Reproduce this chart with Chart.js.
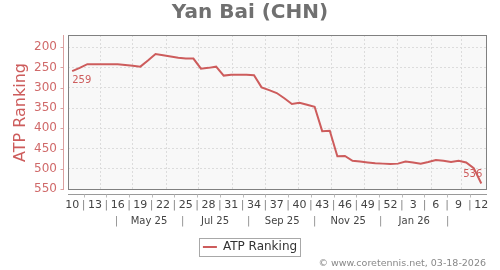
<!DOCTYPE html>
<html>
<head>
<meta charset="utf-8">
<script src="https://cdn.jsdelivr.net/npm/chart.js@4.4.1/dist/chart.umd.min.js"></script>
<style>
	html, body { margin: 0; padding: 0; background: #fff; }
</style>
</head>
<body>
<canvas id="mycanvas" width="500" height="270"></canvas>
<script>
// weekly ATP ranking, week 10 of 2025 to week 12 of 2026
var weeks = [10, 11, 12, 13, 14, 15, 16, 17, 18, 19, 20, 21, 22, 23, 24, 25, 26, 27, 28, 29,
	30, 31, 32, 33, 34, 35, 36, 37, 38, 39, 40, 41, 42, 43, 44, 45, 46, 47, 48, 49, 50, 51, 52,
	1, 2, 3, 4, 5, 6, 7, 8, 9, 10, 11, 12];
var ranking = [259, 251, 242, 242, 242, 242, 242, 244, 246, 248, 233, 217, 220, 223, 226, 228, 228, 253, 251, 248,
	270, 268, 268, 268, 269, 299, 306, 313, 326, 340, 337, 342, 347, 407, 406, 469, 468, 480, 482, 484, 486, 487, 488,
	487, 482, 484, 487, 483, 478, 480, 483, 480, 484, 498, 536];
var yTicks = [200, 250, 300, 350, 400, 450, 500, 550];
var monthLabels = ['May 25', 'Jul 25', 'Sep 25', 'Nov 25', 'Jan 26'];

var MON = ['Jan', 'Feb', 'Mar', 'Apr', 'May', 'Jun', 'Jul', 'Aug', 'Sep', 'Oct', 'Nov', 'Dec'];
var origin = Date.UTC(2025, 2, 6); // thursday of week 10, 2025
var WEEK = 7 * 864e5;
var xMin = -0.55, xMax = weeks.length - 1 + 0.75;
var red = '#cd5c5c';

function weekPos(y, m, d) {
	return (Date.UTC(y, m, d) - origin) / WEEK;
}

// first label row: week numbers with separators between them
var weekTicks = [];
for (var i = 0; i < weeks.length; i += 1.5) {
	weekTicks.push({ value: i, label: i % 3 === 0 ? String(weeks[i]) : '|' });
}

// second label row: every other month, centred mid-month
var monthTicks = [];
monthLabels.forEach(function(lbl, k) {
	var m = MON.indexOf(lbl.slice(0, 3)), y = 2000 + parseInt(lbl.slice(4), 10);
	if (k === 0) monthTicks.push({ value: weekPos(y, m - 1, 16), label: '|' });
	monthTicks.push({ value: weekPos(y, m, 16), label: lbl });
	monthTicks.push({ value: weekPos(y, m + 1, 16), label: '|' });
});

// vertical grid on month starts
var gridTicks = [];
for (var k = 0; k < 14; k++) {
	var v = weekPos(2025, 2 + k, 1);
	if (v > xMin && v < xMax) gridTicks.push({ value: v });
}

var points = ranking.map(function(r, i) { return { x: i, y: r }; });

var decor = {
	id: 'decor',
	beforeDraw: function(chart) {
		var c = chart.ctx, a = chart.chartArea;
		c.save();
		c.fillStyle = '#fff';
		c.fillRect(0, 0, chart.width, chart.height);
		c.fillStyle = '#f8f8f8';
		c.fillRect(a.left, a.top, a.right - a.left, a.bottom - a.top);
		c.restore();
	},
	beforeDatasetsDraw: function(chart) {
		var c = chart.ctx, a = chart.chartArea;
		c.save();
		c.strokeStyle = '#808080';
		c.lineWidth = 1;
		c.strokeRect(Math.round(a.left) + 0.5, Math.round(a.top) + 0.5,
			Math.round(a.right - a.left) - 1, Math.round(a.bottom - a.top) - 1);

		// y axis line, set off from the frame
		var ys = chart.scales.y, lx = Math.round(a.left) - 4.5;
		c.strokeStyle = '#dba0a0';
		c.beginPath();
		c.moveTo(lx, a.top);
		c.lineTo(lx, a.bottom);
		yTicks.forEach(function(t) {
			var py = Math.round(ys.getPixelForValue(t)) + 0.5;
			c.moveTo(lx - 3, py);
			c.lineTo(lx, py);
		});
		c.stroke();

		// x axis line with marks at the separators
		var xs = chart.scales.x, ly = Math.round(a.bottom) + 4.5;
		c.strokeStyle = '#9a9a9a';
		c.beginPath();
		c.moveTo(a.left, ly);
		c.lineTo(a.right, ly);
		c.stroke();
		c.strokeStyle = '#bbb';
		c.beginPath();
		weekTicks.forEach(function(t) {
			if (t.label !== '|') return;
			var px = Math.round(xs.getPixelForValue(t.value)) + 0.5;
			c.moveTo(px, ly);
			c.lineTo(px, ly + 3);
		});
		c.stroke();
		c.restore();
	},
	afterDraw: function(chart) {
		var c = chart.ctx;
		var pts = chart.getDatasetMeta(0).data;
		var first = pts[0], last = pts[pts.length - 1];
		c.save();
		c.font = '10px "DejaVu Sans"';
		c.fillStyle = red;
		c.textBaseline = 'middle';
		c.textAlign = 'left';
		c.fillText(String(ranking[0]), first.x, first.y + 9);
		c.textAlign = 'right';
		c.fillText(String(ranking[ranking.length - 1]), last.x + 1, last.y - 9);

		// legend frame
		var hb = chart.legend.legendHitBoxes[0];
		c.strokeStyle = '#a8a8a8';
		c.lineWidth = 1;
		c.strokeRect(Math.round(hb.left - 4) + 0.5, Math.round(hb.top - 3) + 0.5,
			Math.round(hb.width + 7), Math.round(hb.height + 6));

		c.font = '9.5px "DejaVu Sans"';
		c.fillStyle = '#888';
		c.textAlign = 'right';
		c.fillText('\u00a9 www.coretennis.net, 03-18-2026', 486, 264);
		c.restore();
	}
};

Chart.defaults.font.family = '"DejaVu Sans", sans-serif';

var ctx = document.getElementById('mycanvas');
var lineGraph = new Chart(ctx, {
	type: 'line',
	data: {
		datasets: [{
			label: 'ATP Ranking',
			data: points,
			borderColor: red,
			backgroundColor: red,
			borderWidth: 2,
			pointRadius: 0,
			tension: 0,
			fill: false
		}]
	},
	options: {
		responsive: false,
		animation: false,
		layout: { padding: { left: 0, right: 0, top: 0, bottom: 7 } },
		plugins: {
			title: {
				display: true,
				text: 'Yan Bai (CHN)',
				color: '#707070',
				font: { size: 20, weight: 'bold' },
				padding: { top: 1, bottom: 10 }
			},
			legend: {
				position: 'bottom',
				labels: {
					usePointStyle: true,
					pointStyle: 'line',
					pointStyleWidth: 14,
					color: '#333',
					font: { size: 12 }
				}
			},
			tooltip: { enabled: false }
		},
		scales: {
			x: {
				type: 'linear',
				position: 'bottom',
				weight: 0,
				min: xMin,
				max: xMax,
				grid: { display: false, drawTicks: false },
				border: { display: false },
				afterBuildTicks: function(s) {
					s.ticks = weekTicks.map(function(t) { return { value: t.value }; });
				},
				ticks: {
					autoSkip: false,
					maxRotation: 0,
					padding: 8.4,
					font: { size: 11 },
					color: function(c) { return c.tick && c.tick.label === '|' ? '#888' : '#444'; },
					callback: function(v, i) { return weekTicks[i].label; }
				},
				afterFit: function(s) { s.height = 22; }
			},
			x2: {
				type: 'linear',
				position: 'bottom',
				weight: 1,
				min: xMin,
				max: xMax,
				grid: { display: false, drawTicks: false },
				border: { display: false },
				afterBuildTicks: function(s) {
					s.ticks = monthTicks.map(function(t) { return { value: t.value }; });
				},
				ticks: {
					autoSkip: false,
					maxRotation: 0,
					padding: 3.5,
					font: { size: 10 },
					color: function(c) { return c.tick && c.tick.label === '|' ? '#888' : '#444'; },
					callback: function(v, i) { return monthTicks[i].label; }
				},
				afterFit: function(s) { s.height = 19; }
			},
			xg: {
				type: 'linear',
				position: 'bottom',
				weight: 2,
				min: xMin,
				max: xMax,
				afterBuildTicks: function(s) { s.ticks = gridTicks.slice(); },
				ticks: { display: false },
				grid: { color: '#dcdcdc', drawTicks: false },
				border: { display: false, dash: [2, 2] },
				afterFit: function(s) { s.height = 0; }
			},
			y: {
				reverse: true,
				min: 170,
				max: 552,
				afterBuildTicks: function(s) {
					s.ticks = yTicks.map(function(t) { return { value: t }; });
				},
				grid: { color: '#dcdcdc', drawTicks: false },
				border: { display: false, dash: [2, 2] },
				ticks: { color: '#d06a6a', font: { size: 12 }, padding: 11 },
				title: {
					display: true,
					text: 'ATP Ranking',
					color: red,
					font: { size: 16 },
					padding: { top: 11.4, bottom: 0 }
				},
				afterFit: function(s) { s.width = 68; }
			},
			yr: {
				position: 'right',
				grid: { display: false },
				border: { display: false },
				ticks: { display: false },
				afterFit: function(s) { s.width = 13; }
			}
		}
	},
	plugins: [decor]
});
</script>
</body>
</html>
